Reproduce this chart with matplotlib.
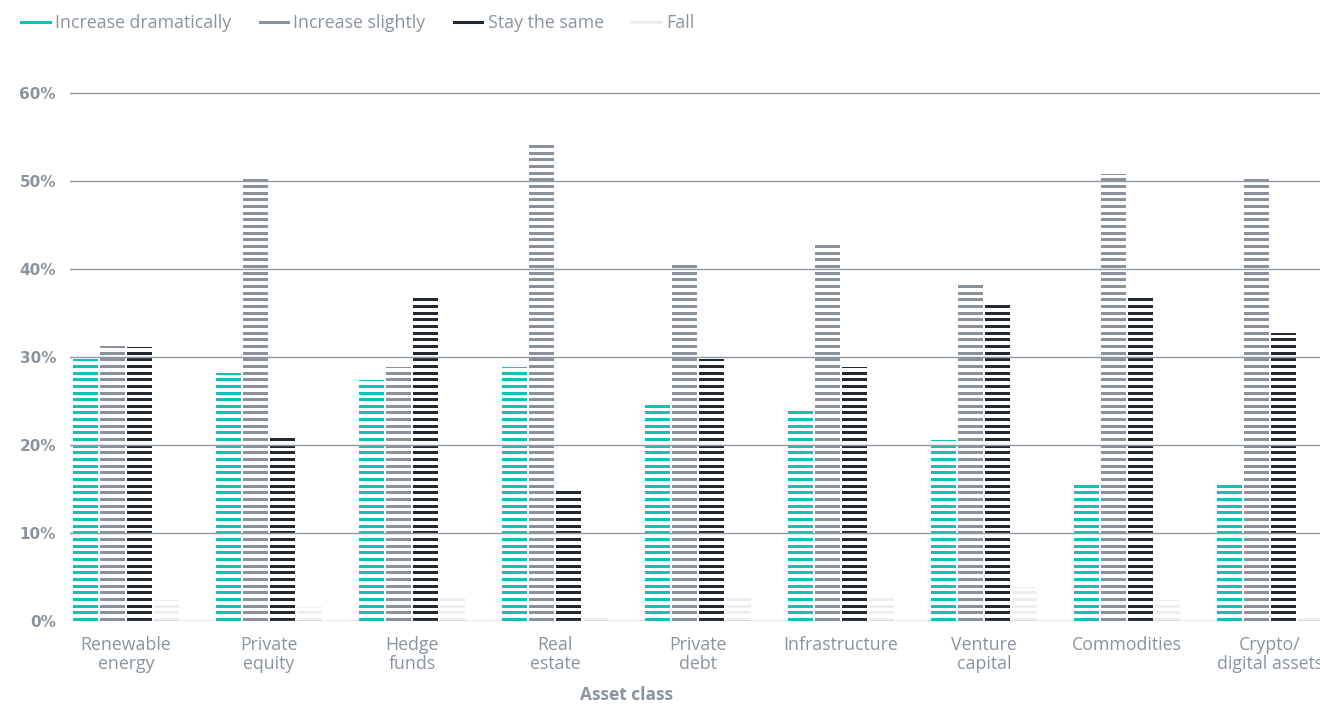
import matplotlib
matplotlib.use("Agg")
import matplotlib.pyplot as plt
import numpy as np

categories = ["Renewable\nenergy", "Private\nequity", "Hedge\nfunds", "Real\nestate",
              "Private\ndebt", "Infrastructure", "Venture\ncapital", "Commodities",
              "Crypto/\ndigital assets"]
series_names = ["Increase dramatically", "Increase slightly", "Stay the same", "Fall"]
increase_dramatically = [29.8, 28.2, 27.4, 28.9, 25.0, 24.2, 20.6, 15.9, 15.9]
increase_slightly = [31.2, 50.2, 28.9, 54.5, 40.9, 43.2, 38.5, 50.8, 50.2]
stay_the_same = [31.1, 21.0, 37.1, 15.1, 29.8, 28.9, 36.3, 37.1, 32.7]
fall = [2.4, 1.6, 3.0, 0.3, 3.0, 3.0, 3.9, 2.4, 0.3]
yticks = [0, 10, 20, 30, 40, 50, 60]

colors = ["#13c2b7", "#8a929b", "#232930", "#eceef1"]
text_color = "#8a949e"

plt.rcParams['font.family'] = ['Open Sans', 'DejaVu Sans']

fig = plt.figure(figsize=(13.2, 7.04), dpi=100)
ax = fig.add_axes([70/1320, 83/704, 1 - 70/1320, 545.6/704])

x = np.arange(len(categories))
bw = 0.175
step = 0.189
data = [increase_dramatically, increase_slightly, stay_the_same, fall]
for i, vals in enumerate(data):
    ax.bar(x + (i - 1.5) * step, vals, width=bw, color=colors[i], zorder=1,
           linewidth=0, label=series_names[i])

# horizontal white gaps to create striped bars
p = 0.757
t = 0.34
k = 0
while k * p < 62:
    ax.axhspan(k * p + t, (k + 1) * p, color="white", zorder=2, linewidth=0)
    k += 1

for yv in yticks:
    ax.axhline(yv, color="#8f98a2", lw=1.0, zorder=3)

ax.set_xlim(-0.39, 8.35)
ax.set_ylim(0, 62)
for s in ax.spines.values():
    s.set_visible(False)
ax.set_yticks(yticks)
ax.set_yticklabels([f"{v}%" for v in yticks], fontsize=11, fontweight="bold",
                   color=text_color, family="DejaVu Sans")
ax.tick_params(axis="y", length=0, pad=10)
ax.set_xticks(x)
ax.set_xticklabels(categories, fontsize=12.8, color=text_color, linespacing=1.05)
ax.tick_params(axis="x", length=0, pad=11)
ax.set_xlabel("Asset class", fontsize=12.5, fontweight="bold", color=text_color)
ax.xaxis.set_label_coords((627 - 70) / 1250, (704 - 686 - 83) / 545.6)

handles = [plt.Line2D([0], [0], color=c, lw=2.2) for c in colors]
leg = fig.legend(handles, series_names, loc="upper left", bbox_to_anchor=(0.004, 1.003),
                 ncol=4, frameon=False, fontsize=12.8, handlelength=1.6,
                 handletextpad=0.3, columnspacing=1.6, labelcolor=text_color)

fig.savefig("out.png", dpi=100)
